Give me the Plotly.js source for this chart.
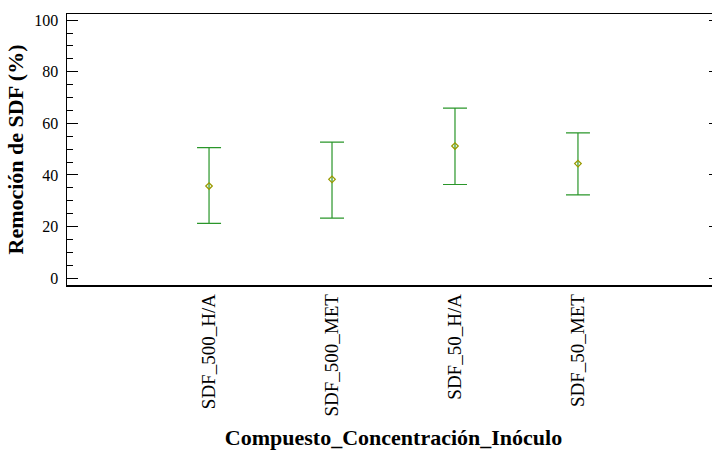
<!DOCTYPE html>
<html>
<head>
<meta charset="utf-8">
<script src="https://cdn.plot.ly/plotly-3.0.1.min.js"></script>
</head>
<body style="margin:0">
<div style="width:712px;height:457px;overflow:hidden;position:relative">
<div id="chart"></div>
</div>
<script>
const categories = ["SDF_500_H/A", "SDF_500_MET", "SDF_50_H/A", "SDF_50_MET"];
const means = [35.7, 38.3, 51.2, 44.4];
const upper = [50.6, 52.7, 65.9, 56.3];
const lower = [21.2, 23.3, 36.3, 32.3];
const yTickVals = [0, 20, 40, 60, 80, 100];

const trace = {
  type: "scatter",
  mode: "markers",
  x: categories,
  y: means,
  marker: {symbol: "diamond-open", size: 5, color: "#9a9a00", line: {width: 1.3, color: "#9a9a00"}},
  error_y: {
    type: "data",
    symmetric: false,
    array: upper.map((u, i) => u - means[i]),
    arrayminus: means.map((m, i) => m - lower[i]),
    color: "#2a962a",
    thickness: 1.2,
    width: 12
  },
  hoverinfo: "skip"
};

const fam = "Liberation Serif";
const layout = {
  width: 722,
  height: 457,
  margin: {l: 67, r: 2, t: 14, b: 172},
  showlegend: false,
  font: {family: fam, size: 16},
  xaxis: {
    type: "category",
    range: [-1.155, 4.155],
    tickangle: -90,
    tickfont: {family: fam, size: 19, color: "#000"},
    showgrid: false,
    zeroline: false,
    showline: true,
    linecolor: "#000",
    linewidth: 1.5,
    mirror: true,
    ticks: "",
    title: {text: "<b>Compuesto_Concentración_Inóculo</b>", font: {family: fam, size: 22, color: "#000"}, standoff: 14}
  },
  yaxis: {
    range: [-2.65, 102.4],
    tickvals: yTickVals,
    ticktext: yTickVals.map(String),
    ticks: "inside",
    ticklen: 11,
    tickwidth: 1,
    tickcolor: "#000",
    ticklabelstandoff: 4,
    minor: {dtick: 5, tick0: 0, ticks: "inside", ticklen: 6, tickwidth: 1, tickcolor: "#000", showgrid: false},
    tickfont: {family: fam, size: 16, color: "#000"},
    showgrid: false,
    zeroline: false,
    showline: true,
    linecolor: "#000",
    linewidth: 1.5,
    mirror: "ticks",
    title: {text: "<b>Remoción de SDF (%)</b>", font: {family: fam, size: 22, color: "#000"}, standoff: 4}
  }
};

Plotly.newPlot("chart", [trace], layout, {staticPlot: true});
</script>
</body>
</html>
